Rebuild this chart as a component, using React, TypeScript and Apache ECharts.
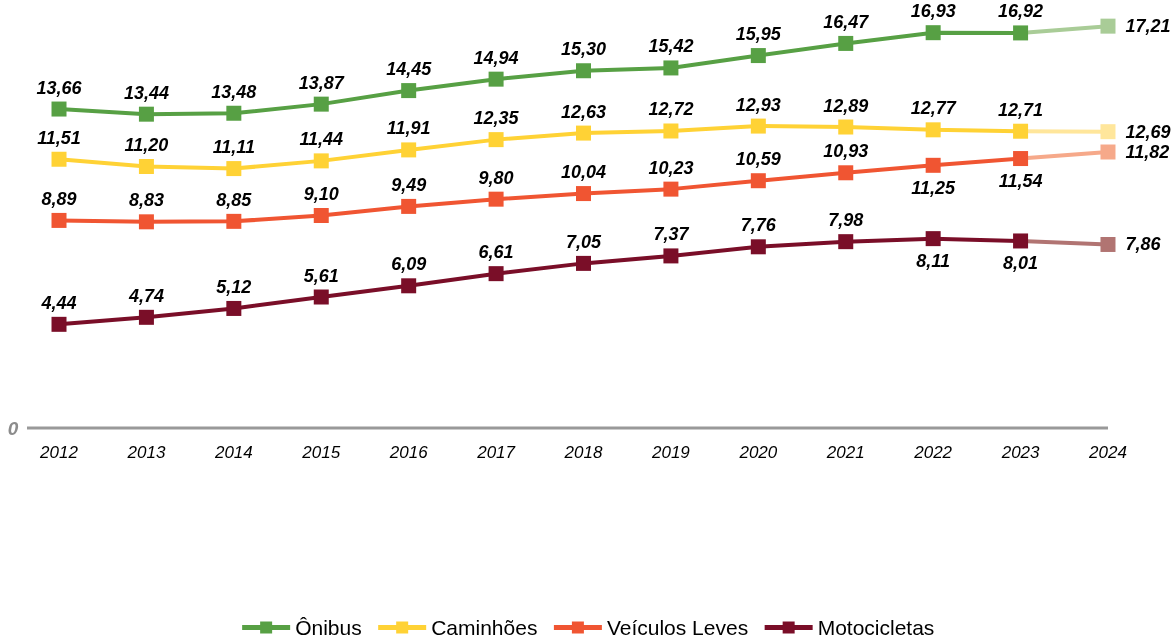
import React, { useEffect, useRef } from "react";
import * as echarts from "echarts";

const years = ["2012", "2013", "2014", "2015", "2016", "2017", "2018", "2019", "2020", "2021", "2022", "2023", "2024"];
const onibus = [13.66, 13.44, 13.48, 13.87, 14.45, 14.94, 15.3, 15.42, 15.95, 16.47, 16.93, 16.92, 17.21];
const caminhoes = [11.51, 11.2, 11.11, 11.44, 11.91, 12.35, 12.63, 12.72, 12.93, 12.89, 12.77, 12.71, 12.69];
const leves = [8.89, 8.83, 8.85, 9.1, 9.49, 9.8, 10.04, 10.23, 10.59, 10.93, 11.25, 11.54, 11.82];
const motos = [4.44, 4.74, 5.12, 5.61, 6.09, 6.61, 7.05, 7.37, 7.76, 7.98, 8.11, 8.01, 7.86];

const seriesNames = ["Ônibus", "Caminhões", "Veículos Leves", "Motocicletas"];
const seriesColors = ["#57A044", "#FFD235", "#F05532", "#7A0E28"];
const fadedColors = ["#A9CC97", "#FFE69B", "#F6A98A", "#B17472"];
// indices whose label sits below the point, per series
const belowIdx: number[][] = [[], [], [10, 11], [10, 11]];

const FONT = "'Liberation Sans', Arial, sans-serif";
const fmt = (v: number) => v.toFixed(2).replace(".", ",");

export default function App() {
  const ref = useRef<HTMLDivElement>(null);
  useEffect(() => {
    if (!ref.current) return;
    const chart = echarts.init(ref.current, null, { renderer: "svg" });
    const all = [onibus, caminhoes, leves, motos];
    const last = years.length - 1;
    const labelBase = {
      show: true,
      color: "#000",
      fontFamily: FONT,
      fontSize: 18,
      fontWeight: "bold" as const,
      fontStyle: "italic" as const,
      formatter: (p: any) => fmt(p.value),
    };
    const series: any[] = [];
    all.forEach((vals, si) => {
      series.push({
        name: seriesNames[si],
        type: "line",
        symbol: "rect",
        symbolSize: 15,
        color: seriesColors[si],
        lineStyle: { width: 4, color: seriesColors[si] },
        itemStyle: { color: seriesColors[si] },
        z: 3,
        data: vals.slice(0, last).map((v, i) =>
          belowIdx[si].includes(i)
            ? { value: v, label: { position: "bottom", distance: 6 } }
            : { value: v }
        ),
        label: { ...labelBase, position: "top", distance: 5 },
      });
      series.push({
        name: seriesNames[si] + " proj",
        type: "line",
        symbol: "rect",
        symbolSize: 15,
        lineStyle: { width: 4, color: fadedColors[si] },
        itemStyle: { color: fadedColors[si] },
        z: 2,
        data: vals.map((v, i) =>
          i === last
            ? { value: v, label: { show: true, position: "right", distance: 10 } }
            : i === last - 1
            ? { value: v, symbol: "none", label: { show: false } }
            : null
        ),
        label: { ...labelBase, show: false },
      });
    });

    chart.setOption({
      animation: false,
      grid: { left: 15.3, right: 22.3, top: 7.7, bottom: 213 },
      legend: {
        data: seriesNames,
        bottom: -2,
        left: "center",
        itemWidth: 48,
        itemHeight: 15,
        itemGap: 14,
        lineStyle: { width: 5 },
        textStyle: { fontFamily: FONT, fontSize: 21, color: "#000" },
      },
      xAxis: {
        type: "category",
        data: years,
        boundaryGap: true,
        axisLine: { show: false },
        axisTick: { show: false },
        axisLabel: {
          color: "#000",
          fontFamily: FONT,
          fontSize: 17,
          fontStyle: "italic",
          margin: 16,
        },
      },
      yAxis: {
        type: "value",
        min: 0,
        max: 18,
        interval: 18,
        splitLine: { show: false },
        axisLine: { show: false },
        axisTick: { show: false },
        axisLabel: {
          color: "#8C8C8C",
          fontFamily: FONT,
          fontSize: 19,
          fontWeight: "bold",
          fontStyle: "italic",
          margin: -3,
          formatter: (v: number) => (v === 0 ? "0" : ""),
        },
      },
      series,
    });

    const y0 = chart.convertToPixel({ yAxisIndex: 0 }, 0) as number;
    const xEnd = chart.convertToPixel({ xAxisIndex: 0 }, years[last]) as number;
    chart.setOption({
      graphic: [
        {
          type: "line",
          shape: { x1: 27, y1: y0, x2: xEnd, y2: y0 },
          style: { stroke: "#999999", lineWidth: 3 },
          z: 1,
        },
      ],
    });

    return () => chart.dispose();
  }, []);
  return <div ref={ref} style={{ position: "fixed", left: 0, top: 0, width: 1174, height: 641 }} />;
}
